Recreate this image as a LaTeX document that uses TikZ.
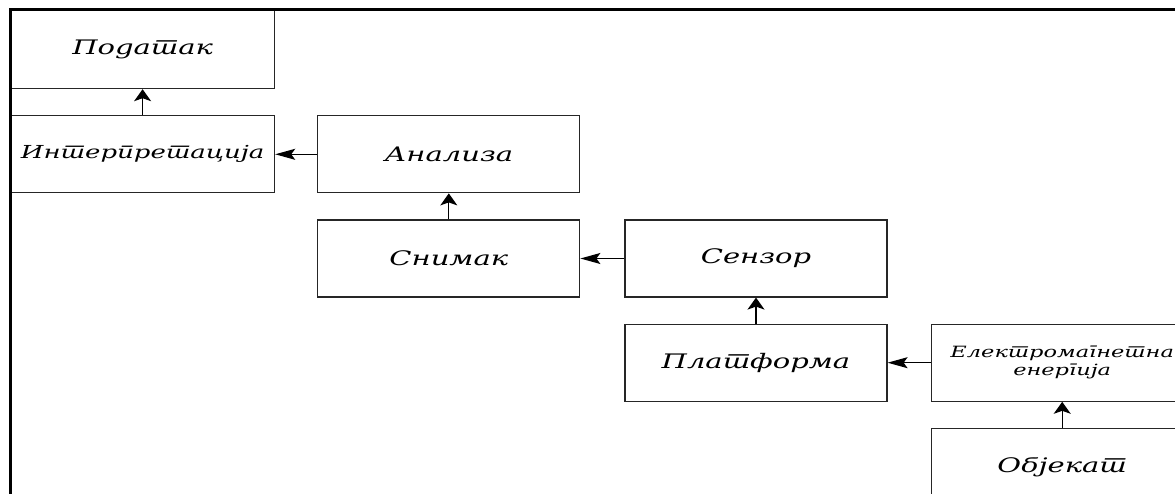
\documentclass[tikz,border=0pt]{standalone}
\usepackage{fontspec}
\setmainfont{DejaVu Serif}
\newfontfamily\srpski[Language=Serbian,Script=Cyrillic,FakeStretch=1.45]{DejaVu Serif}
\usetikzlibrary{arrows.meta,positioning}

\begin{document}
\begin{tikzpicture}[
    x=1pt, y=1pt,
    box/.style={draw=black!85, line width=1.2pt, minimum width=262pt, minimum height=77pt, inner sep=0pt, align=center, font=\srpski\itshape\fontsize{20}{22}\selectfont},
    midbox/.style={box, font=\srpski\itshape\fontsize{17.9}{20}\selectfont},
    smallbox/.style={box, font=\srpski\itshape\fontsize{15.5}{18}\selectfont},
    harr/.style={-{Stealth[length=20pt,width=11pt,inset=4pt]}, line width=1.3pt},
    varr/.style={-{Stealth[length=12pt,width=17pt,inset=3pt]}, line width=1.3pt}
  ]
    \useasboundingbox (0,0) rectangle (1175,493);
    \clip (0,0) rectangle (1175,493);
    % staircase of boxes
    \node[box, minimum width=264pt, minimum height=78pt, anchor=north west] (podatak) at (10,483) {Податак};
    \node[midbox, minimum width=264pt, below=26pt of podatak] (interp) {Интерпретација};
    \node[box, right=42pt of interp] (analiza) {Анализа};
    \node[box, below=26pt of analiza] (snimak) {Снимак};
    \node[box, right=44pt of snimak] (senzor) {Сензор};
    \node[box, below=26pt of senzor] (platforma) {Платформа};
    \node[smallbox, right=43pt of platforma] (energija) {Електромагнетна\\енергија};
    \node[box, below=26pt of energija] (objekat) {Објекат};
    % connectors
    \draw[varr] (interp) -- (podatak);
    \draw[harr] (analiza) -- (interp);
    \draw[varr] (snimak) -- (analiza);
    \draw[harr] (senzor) -- (snimak);
    \draw[varr] (platforma) -- (senzor);
    \draw[harr] (energija) -- (platforma);
    \draw[varr] (objekat) -- (energija);
    % frame
    \draw[line width=3pt] (10,-5) -- (10,483) -- (1180,483);
  \end{tikzpicture}
\end{document}
